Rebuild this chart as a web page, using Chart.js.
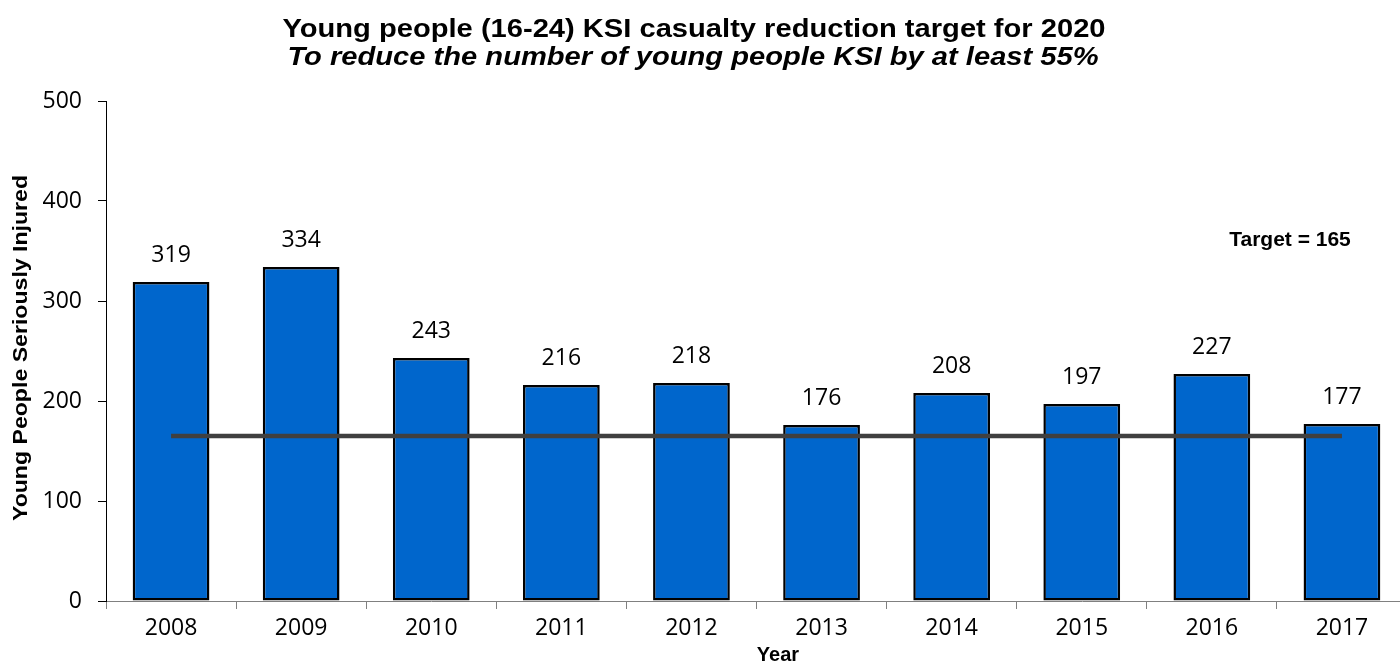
<!DOCTYPE html>
<html>
<head>
<meta charset="utf-8">
<script src="https://cdn.jsdelivr.net/npm/chart.js@4.4.1/dist/chart.umd.min.js"></script>
<style>
  html, body { margin: 0; padding: 0; background: #fff; overflow: hidden; }
  #wrap { width: 1420px; height: 664px; }
</style>
</head>
<body>
<div id="wrap"><canvas id="c" width="1420" height="664"></canvas></div>
<script>
const years = ["2008","2009","2010","2011","2012","2013","2014","2015","2016","2017"];
const ksiValues = [319, 334, 243, 216, 218, 176, 208, 197, 227, 177];
const targetValue = 165;
const targetSeries = [165, 165, 165, 165, 165, 165, 165, 165, 165, 165];
const yTicks = [0, 100, 200, 300, 400, 500];

const titleText = "Young people (16-24) KSI casualty reduction target for 2020";
const subtitleText = "To reduce the number of young people KSI by at least 55%";
const yTitle = "Young People Seriously Injured";
const xTitle = "Year";
const targetLabel = "Target = " + targetValue;

function drawText(ctx, text, x, y, font, sx, rot) {
  ctx.save();
  ctx.translate(x, y);
  if (rot) ctx.rotate(rot);
  ctx.scale(sx, 1);
  ctx.font = font;
  ctx.fillText(text, 0, 0);
  ctx.restore();
}

const textPlugin = {
  id: 'texts',
  afterDatasetsDraw(chart) {
    const ctx = chart.ctx;
    const meta = chart.getDatasetMeta(0);
    ctx.save();
    ctx.fillStyle = '#000';
    ctx.textAlign = 'center';
    ctx.textBaseline = 'middle';
    ctx.font = '23px "Open Sans"';
    meta.data.forEach((bar, i) => {
      ctx.fillText(String(ksiValues[i]), bar.x, bar.y - 27);
    });
    ctx.restore();
  },
  afterDraw(chart) {
    const ctx = chart.ctx;
    ctx.save();
    ctx.fillStyle = '#000';
    ctx.textAlign = 'center';
    ctx.textBaseline = 'middle';
    drawText(ctx, titleText, 694, 30, 'bold 26px "Liberation Sans"', 1.12);
    drawText(ctx, subtitleText, 693, 58, 'italic bold 26px "Liberation Sans"', 1.12);
    drawText(ctx, targetLabel, 1290, 240, 'bold 21px "Liberation Sans"', 1.0);
    drawText(ctx, xTitle, 778, 655, 'bold 20px "Liberation Sans"', 1.0);
    drawText(ctx, yTitle, 21, 348, 'bold 21px "Liberation Sans"', 1.1, -Math.PI / 2);
    ctx.restore();
  }
};

new Chart(document.getElementById('c'), {
  type: 'bar',
  data: {
    labels: years,
    datasets: [
      {
        type: 'bar',
        data: ksiValues,
        backgroundColor: '#0066CC',
        borderColor: '#000000',
        borderWidth: 2.5,
        borderSkipped: false,
        categoryPercentage: 1,
        barPercentage: 0.59,
        order: 2
      },
      {
        type: 'line',
        data: targetSeries,
        borderColor: '#404040',
        borderWidth: 4.5,
        pointRadius: 0,
        fill: false,
        order: 1
      }
    ]
  },
  options: {
    responsive: false,
    animation: false,
    devicePixelRatio: 1,
    layout: { padding: { top: 101, left: 0, right: 13, bottom: 0 } },
    plugins: {
      legend: { display: false },
      tooltip: { enabled: false },
      title: { display: false }
    },
    scales: {
      x: {
        grid: { display: true, drawOnChartArea: false, offset: true, tickLength: 8, color: '#808080', tickColor: '#808080' },
        border: { display: true, color: '#808080', width: 1 },
        ticks: { font: { family: '"Open Sans"', size: 23 }, color: '#000', padding: 6, maxRotation: 0 },
        afterFit(s) { s.height = 63; }
      },
      y: {
        min: 0, max: 500,
        afterBuildTicks(s) { s.ticks = yTicks.map(v => ({ value: v })); },
        grid: { display: true, drawOnChartArea: false, tickLength: 8, color: '#000', tickColor: '#000' },
        border: { display: true, color: '#000', width: 1 },
        ticks: { font: { family: '"Open Sans"', size: 23 }, color: '#000', padding: 16 },
        afterFit(s) { s.width = 106; }
      }
    }
  },
  plugins: [textPlugin]
});
</script>
</body>
</html>
